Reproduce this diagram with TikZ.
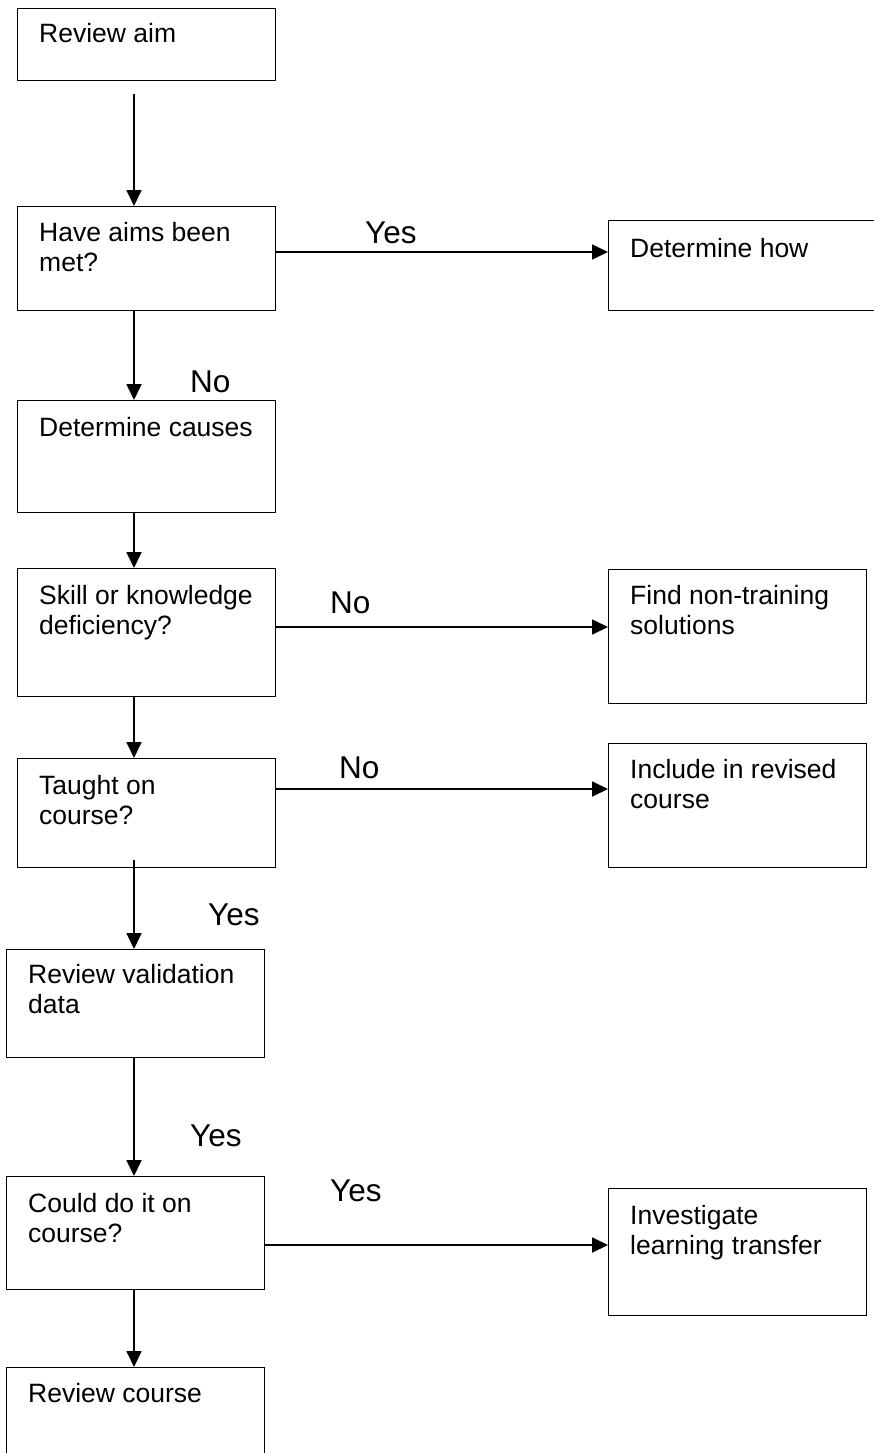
\documentclass[tikz,border=0pt]{standalone}
\usepackage{fontspec}
\setmainfont{Liberation Sans}
\usetikzlibrary{arrows.meta}
\begin{document}
\begin{tikzpicture}[x=1pt,y=-1pt,
  box/.style={draw, line width=1.3pt, inner sep=0pt, anchor=north west},
  txt/.style={anchor=base west, inner sep=0pt, font=\fontsize{26.5}{30.5}\selectfont},
  lbl/.style={anchor=base west, inner sep=0pt, font=\fontsize{31.5}{36}\selectfont},
  arr/.style={line width=1.8pt, -{Triangle[length=16pt,width=15pt]}}]
\clip (0,0) rectangle (874,1453);
\fill[white] (0,0) rectangle (874,1453);

% helper coordinates
\coordinate (ax) at (134,0);
\coordinate (ya) at (0,94);
\coordinate (y1) at (0,252);
\coordinate (y2) at (0,627);
\coordinate (y3) at (0,789);
\coordinate (y4) at (0,1245);

% boxes
\node[box, minimum width=258pt, minimum height=72pt]  (aim)      at (17,8)     {};
\node[box, minimum width=258pt, minimum height=104pt] (met)      at (17,206)   {};
\node[box, minimum width=272pt, minimum height=90pt]  (how)      at (608,220)  {};
\node[box, minimum width=258pt, minimum height=112pt] (causes)   at (17,400)   {};
\node[box, minimum width=258pt, minimum height=128pt] (skill)    at (17,568)   {};
\node[box, minimum width=258pt, minimum height=134pt] (nontrain) at (608,569)  {};
\node[box, minimum width=258pt, minimum height=109pt] (taught)   at (17,758)   {};
\node[box, minimum width=258pt, minimum height=124pt] (include)  at (608,743)  {};
\node[box, minimum width=258pt, minimum height=108pt] (valid)    at (6,949)    {};
\node[box, minimum width=258pt, minimum height=113pt] (could)    at (6,1176)   {};
\node[box, minimum width=258pt, minimum height=127pt] (transfer) at (608,1188) {};
\node[box, minimum width=258pt, minimum height=110pt] (revcourse) at (6,1367)  {};

% texts
\node[txt] (taim)      at (39,43)    {\parbox[t]{236pt}{Review aim}};
\node[txt] (tmet)      at (39,241)   {\parbox[t]{236pt}{Have aims been\\met?}};
\node[txt] (thow)      at (630,257)  {\parbox[t]{236pt}{Determine how}};
\node[txt] (tcauses)   at (39,436)   {\parbox[t]{236pt}{Determine causes}};
\node[txt] (tskill)    at (39,604)   {\parbox[t]{236pt}{Skill or knowledge\\deficiency?}};
\node[txt] (tnontrain) at (630,604)  {\parbox[t]{236pt}{Find non-training\\solutions}};
\node[txt] (ttaught)   at (39,794)   {\parbox[t]{236pt}{Taught on\\course?}};
\node[txt] (tinclude)  at (630,778)  {\parbox[t]{236pt}{Include in revised\\course}};
\node[txt] (tvalid)    at (28,983)   {\parbox[t]{236pt}{Review validation\\data}};
\node[txt] (tcould)    at (28,1212)  {\parbox[t]{236pt}{Could do it on\\course?}};
\node[txt] (ttransfer) at (630,1224) {\parbox[t]{236pt}{Investigate\\learning transfer}};
\node[txt] (trev)      at (28,1402)  {\parbox[t]{236pt}{Review course}};

% vertical connectors
\draw[arr] (ax |- ya) -- (ax |- met.north);
\draw[arr] (ax |- met.south) -- (ax |- causes.north);
\draw[arr] (ax |- causes.south) -- (ax |- skill.north);
\draw[arr] (ax |- skill.south) -- (ax |- taught.north);
\draw[arr] ([yshift=8pt]ax |- taught.south) -- (ax |- valid.north);
\draw[arr] (ax |- valid.south) -- (ax |- could.north);
\draw[arr] (ax |- could.south) -- (ax |- revcourse.north);

% horizontal connectors
\draw[arr] (met.east |- y1) -- (how.west |- y1);
\draw[arr] (skill.east |- y2) -- (nontrain.west |- y2);
\draw[arr] (taught.east |- y3) -- (include.west |- y3);
\draw[arr] (could.east |- y4) -- (transfer.west |- y4);

% labels
\node[lbl] (l1) at (365,243)  {Yes};
\node[lbl] (l2) at (190,392)  {No};
\node[lbl] (l3) at (330,613)  {No};
\node[lbl] (l4) at (339,778)  {No};
\node[lbl] (l5) at (208,925)  {Yes};
\node[lbl] (l6) at (190,1146) {Yes};
\node[lbl] (l7) at (330,1201) {Yes};
\end{tikzpicture}
\end{document}
